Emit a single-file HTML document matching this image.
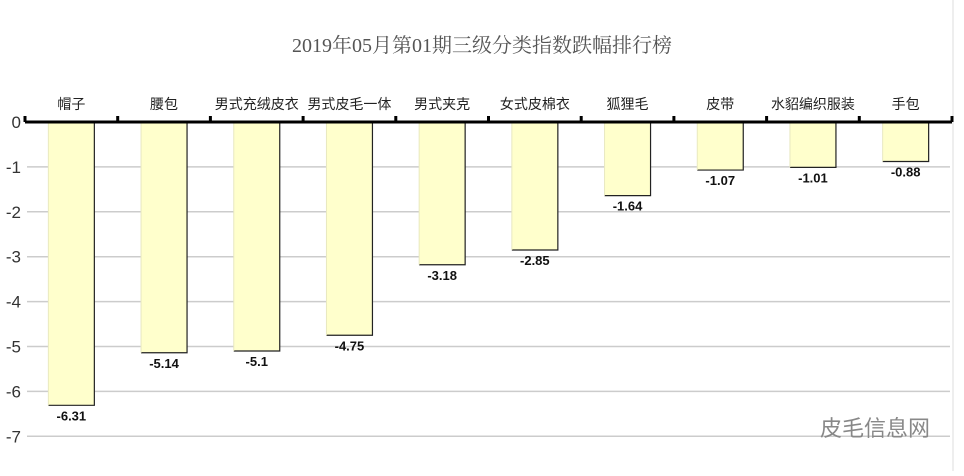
<!DOCTYPE html>
<html><head><meta charset="utf-8"><style>
body{margin:0;background:#fff;}
svg text{font-family:"Liberation Sans","Noto Sans CJK SC",sans-serif;}
</style></head><body>
<svg width="964" height="471" id="c">
<text x="482" y="52" text-anchor="middle" font-size="20" fill="#555" style="font-family:'Liberation Serif','Noto Serif CJK SC',serif">2019年05月第01期三级分类指数跌幅排行榜</text>
<line x1="953" y1="0" x2="953" y2="471" stroke="#ddd"/>
<g id="grid"></g><g id="bars"></g><g id="axis"></g>
<text x="930" y="436" text-anchor="end" font-size="22" fill="#888">皮毛信息网</text>
</svg>
<script>
const categories=["帽子","腰包","男式充绒皮衣","男式皮毛一体","男式夹克","女式皮棉衣","狐狸毛","皮带","水貂编织服装","手包"];
const values=[-6.31,-5.14,-5.1,-4.75,-3.18,-2.85,-1.64,-1.07,-1.01,-0.88];
const labels=["-6.31","-5.14","-5.1","-4.75","-3.18","-2.85","-1.64","-1.07","-1.01","-0.88"];
const yTicks=[0,-1,-2,-3,-4,-5,-6,-7];
const NS="http://www.w3.org/2000/svg";
const x0=25,bw=92.7,y0=122,unit=44.9;
const y=v=>y0-v*unit;
function mk(t,a,p){const e=document.createElementNS(NS,t);for(const k in a)e.setAttribute(k,a[k]);p.appendChild(e);return e;}
const G=document.getElementById('grid'),B=document.getElementById('bars'),A=document.getElementById('axis');
yTicks.forEach(v=>{
 if(v!==0){const l=mk('line',{x1:27,x2:950,y1:y(v),y2:y(v),stroke:'#ccc','stroke-width':1.5},G);
 
 }
 const t=mk('text',{x:21,y:y(v)+6,'text-anchor':'end','font-size':17,fill:'#333'},A);t.textContent=v;
 
 
});
categories.forEach((c,i)=>{
 const cx=x0+bw*(i+0.5),v=values[i],l=cx-23,r=cx+23,yb=y(v);
 const g=mk('g',{},B);
 
 
 mk('rect',{x:l,y:y0,width:46,height:yb-y0,fill:'#ffffcc'},g);
 mk('path',{d:`M${r},${y0}V${yb}H${l}`,stroke:'#222','stroke-width':1.2,fill:'none'},g);
 mk('line',{x1:l,x2:l,y1:y0,y2:yb,stroke:'#e8e8c0'},g);
 const vt=mk('text',{x:cx,y:yb+15,'text-anchor':'middle','font-size':13,'font-weight':'bold',fill:'#111'},g);vt.textContent=labels[i];
 
 
 const ct=mk('text',{x:cx,y:109,'text-anchor':'middle','font-size':14,fill:'#222'},A);ct.textContent=c;
 
 
});
const ax=mk('line',{x1:x0,x2:952,y1:y0,y2:y0,stroke:'#000','stroke-width':3},A);


for(let i=0;i<=10;i++){const tk=mk('line',{x1:x0+bw*i,x2:x0+bw*i,y1:y0-6,y2:y0,stroke:'#000','stroke-width':3},A);
 
 }
</script>
</body></html>
